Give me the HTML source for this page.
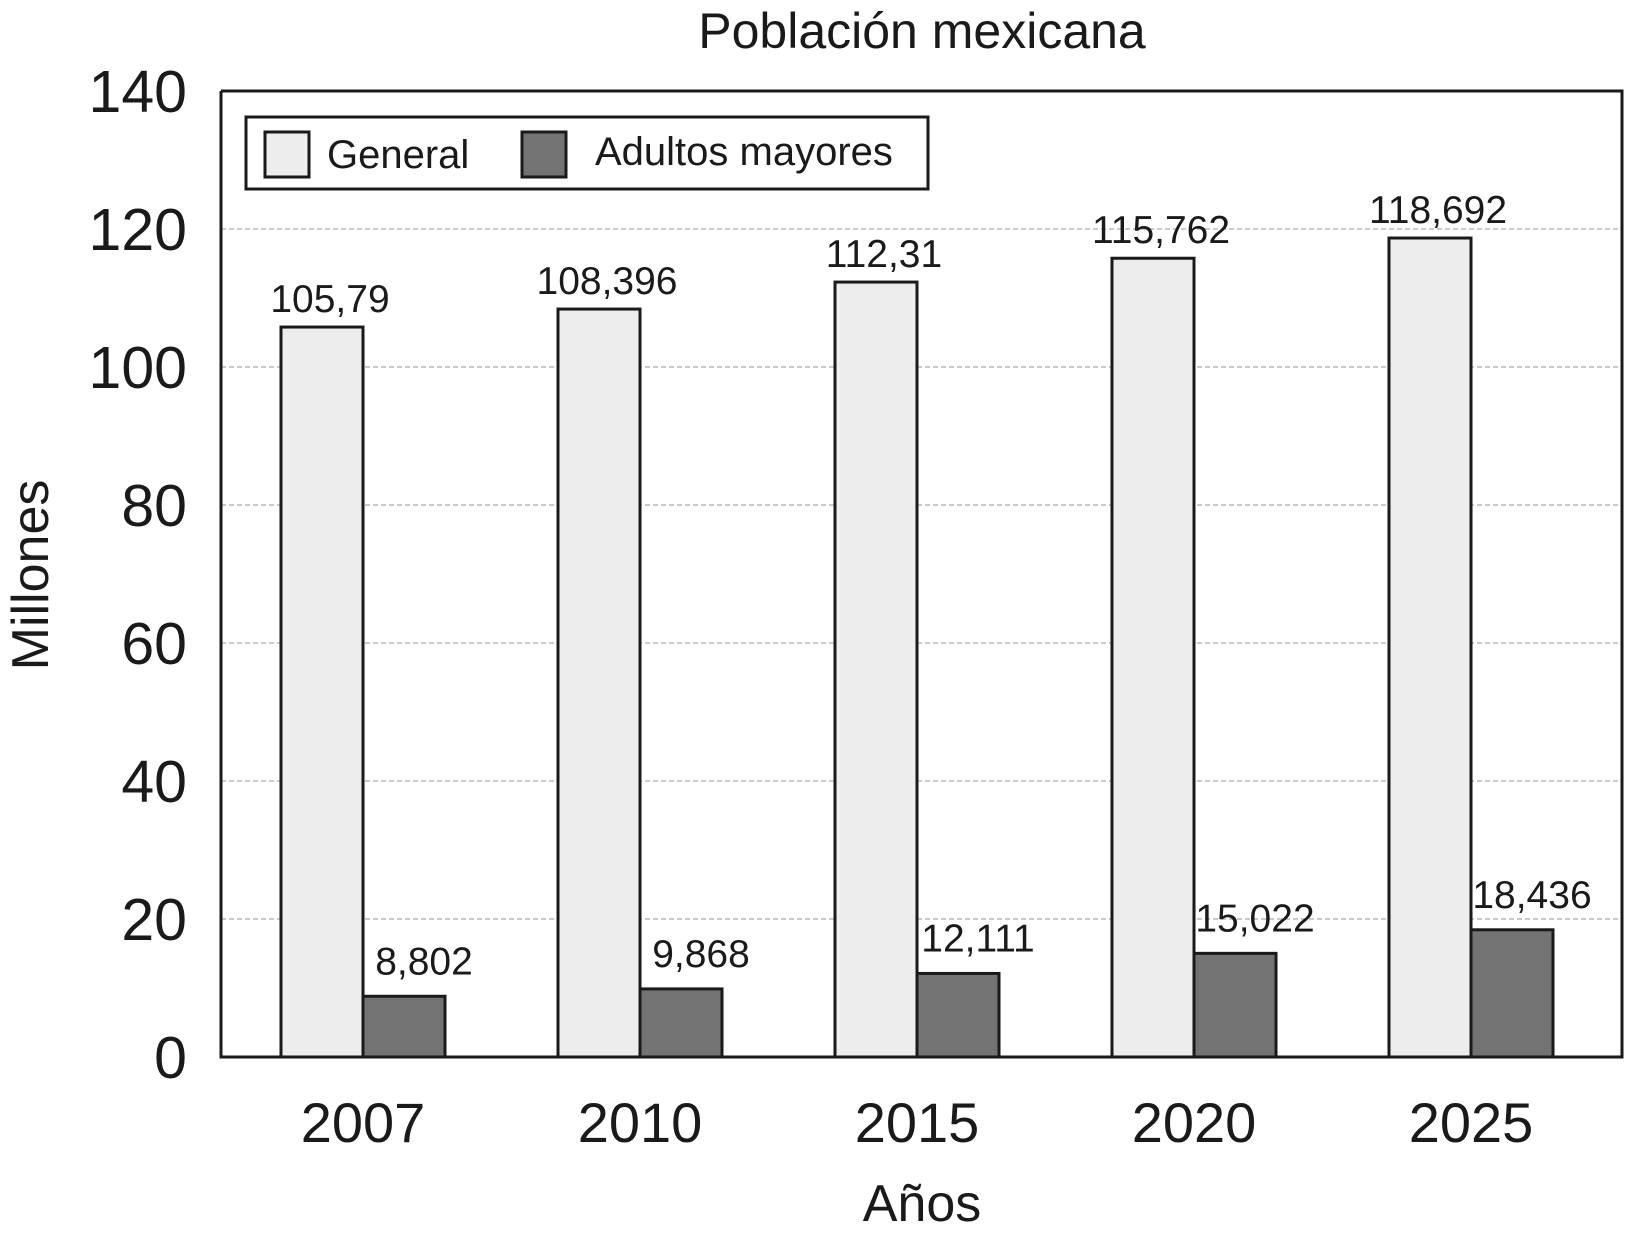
<!DOCTYPE html>
<html><head><meta charset="utf-8"><style>
body{margin:0;background:#fff}
svg text{font-family:"Liberation Sans",sans-serif;fill:#1a1a1a}
</style></head><body>
<svg id="chart" width="1625" height="1241" xmlns="http://www.w3.org/2000/svg">
<g id="g"></g>
</svg>
<script>
const categories=["2007","2010","2015","2020","2025"];
const generalValues=[105.79,108.396,112.31,115.762,118.692];
const adultValues=[8.802,9.868,12.111,15.022,18.436];
const generalLabels=["105,79","108,396","112,31","115,762","118,692"];
const adultLabels=["8,802","9,868","12,111","15,022","18,436"];
const yTicks=[0,20,40,60,80,100,120,140];

const L=221,R=1622,T=91,B=1057,ymax=140;
const y=v=>B-(v/ymax)*(B-T);
const xc=i=>363+i*277;
const bw=82;
const g=document.getElementById('g');
const NS="http://www.w3.org/2000/svg";
function mk(tag,attrs,txt){const e=document.createElementNS(NS,tag);for(const k in attrs)e.setAttribute(k,attrs[k]);if(txt!==undefined)e.textContent=txt;g.appendChild(e);return e;}

yTicks.forEach(v=>{
  if(v>0&&v<140){const l=mk('line',{x1:L,x2:R,y1:y(v),y2:y(v),stroke:'#aaa','stroke-width':1.3,'stroke-dasharray':'5,3'});
  
  }
  const t=mk('text',{x:L-34,y:y(v)+21,'text-anchor':'end','font-size':59},String(v));
  
  
});
categories.forEach((c,i)=>{
  const cx=xc(i);
  const b1=mk('rect',{x:cx-bw,y:y(generalValues[i]),width:bw,height:B-y(generalValues[i]),fill:'#ededed',stroke:'#1a1a1a','stroke-width':3});
  
  
  const b2=mk('rect',{x:cx,y:y(adultValues[i]),width:bw,height:B-y(adultValues[i]),fill:'#737373',stroke:'#1a1a1a','stroke-width':3});
  
  
  const l1=mk('text',{x:cx-bw/2+8,y:y(generalValues[i])-15,'text-anchor':'middle','font-size':39},generalLabels[i]);
  
  
  const l2=mk('text',{x:cx+bw/2+20,y:y(adultValues[i])-22,'text-anchor':'middle','font-size':39},adultLabels[i]);
  
  
  const xt=mk('text',{x:cx,y:1142,'text-anchor':'middle','font-size':56},c);
  
  
});
const ax=mk('polyline',{points:`${L},${T} ${L},${B} ${R},${B} ${R},${T} ${L},${T}`,fill:'none',stroke:'#1a1a1a','stroke-width':3});


const ti=mk('text',{x:922,y:48,'text-anchor':'middle','font-size':50},'Población mexicana');


const xa=mk('text',{x:922,y:1221,'text-anchor':'middle','font-size':52},'Años');


const ya=mk('text',{x:0,y:0,'text-anchor':'middle','font-size':52,transform:'translate(48,575) rotate(-90)'},'Millones');


const lb=mk('rect',{x:246,y:117,width:682,height:72,fill:'#fff',stroke:'#1a1a1a','stroke-width':3});


const s1=mk('rect',{x:265,y:132,width:44,height:45,fill:'#ededed',stroke:'#1a1a1a','stroke-width':3});


const t1=mk('text',{x:327,y:168,'font-size':40},'General');


const s2=mk('rect',{x:522,y:132,width:44,height:45,fill:'#737373',stroke:'#1a1a1a','stroke-width':3});


const t2=mk('text',{x:595,y:165,'font-size':40},'Adultos mayores');


</script>
</body></html>
